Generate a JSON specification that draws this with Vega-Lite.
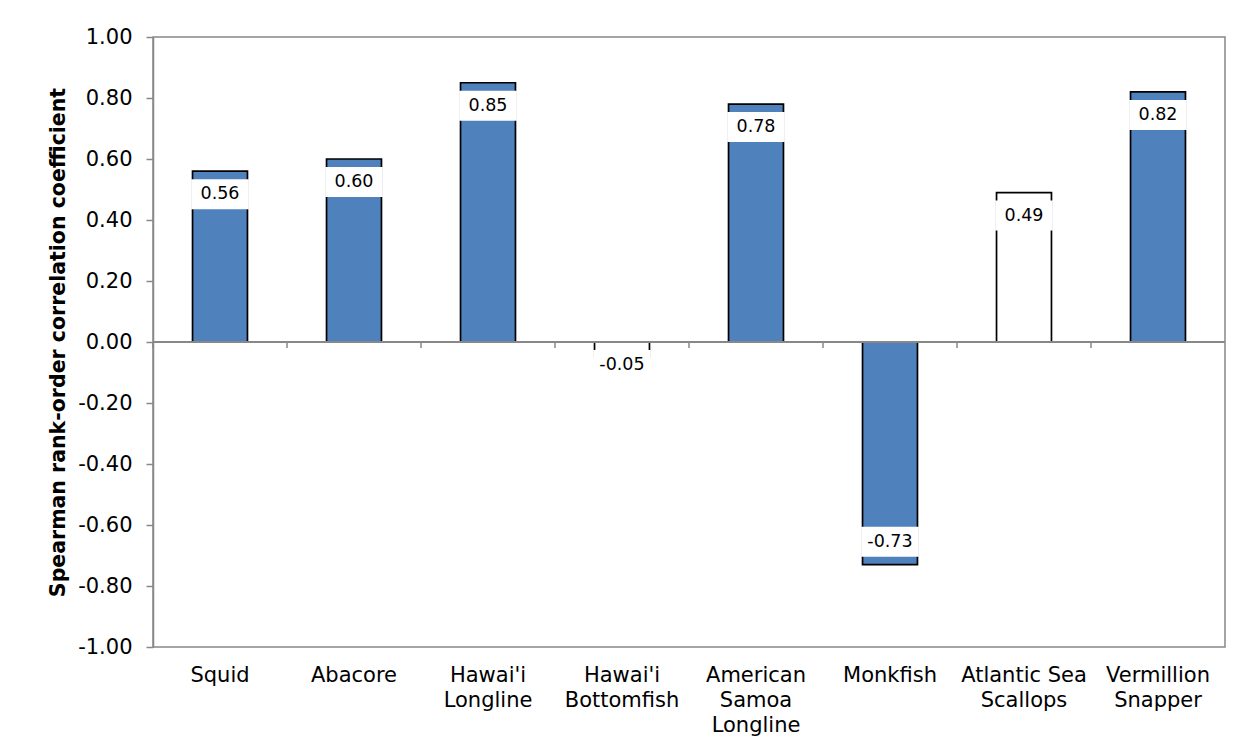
{
  "$schema": "https://vega.github.io/schema/vega-lite/v6.json",
  "width": 1072,
  "height": 610,
  "autosize": {"type": "none"},
  "padding": {"left": 153, "top": 37, "right": 30, "bottom": 105},
  "background": "white",
  "config": {
    "view": {"stroke": "#888888", "strokeWidth": 1.5},
    "font": "DejaVu Sans"
  },
  "data": {
    "values": [
      {"species": "Squid", "rho": 0.56, "fill": "solid"},
      {"species": "Abacore", "rho": 0.60, "fill": "solid"},
      {"species": "Hawai'i Longline", "rho": 0.85, "fill": "solid"},
      {"species": "Hawai'i Bottomfish", "rho": -0.05, "fill": "open"},
      {"species": "American Samoa Longline", "rho": 0.78, "fill": "solid"},
      {"species": "Monkfish", "rho": -0.73, "fill": "solid"},
      {"species": "Atlantic Sea Scallops", "rho": 0.49, "fill": "open"},
      {"species": "Vermillion Snapper", "rho": 0.82, "fill": "solid"}
    ]
  },
  "transform": [
    {"calculate": "datum.rho >= 0 ? datum.rho - 0.0754 : (datum.rho + 0.0754 > 0 ? -0.0754 : datum.rho + 0.0754)", "as": "lab"},
    {"calculate": "datum.lab + 0.0492", "as": "labTop"},
    {"calculate": "datum.lab - 0.0492", "as": "labBot"},
    {"calculate": "(datum.rho < 0 ? '-' : '') + format(abs(datum.rho), '.2f')", "as": "txt"}
  ],
  "layer": [
    {
      "mark": {"type": "bar", "stroke": "black", "strokeWidth": 1.7, "width": {"band": 0.41}},
      "encoding": {
        "x": {
          "field": "species", "type": "nominal", "sort": null, "title": null,
          "scale": {"paddingInner": 0, "paddingOuter": 0},
          "axis": {
            "title": null, "labelAngle": 0, "domain": false, "ticks": false,
            "labelPadding": 17, "labelFontSize": 21, "labelLineHeight": 25,
            "labelColor": "black", "labelBaseline": "top",
            "labelExpr": "datum.value == 'Atlantic Sea Scallops' ? ['Atlantic Sea', 'Scallops'] : split(datum.value, ' ')"
          }
        },
        "y": {
          "field": "rho", "type": "quantitative",
          "title": "Spearman rank-order correlation coefficient",
          "scale": {"domain": [-1, 1], "nice": false},
          "axis": {
            "values": [-1, -0.8, -0.6, -0.4, -0.2, 0, 0.2, 0.4, 0.6, 0.8, 1],
            "labelExpr": "(datum.value < 0 ? '-' : '') + format(abs(datum.value), '.2f')",
            "grid": false,
            "domainColor": "#888888", "domainWidth": 1.5,
            "tickColor": "#888888", "tickSize": 7, "tickWidth": 1.5,
            "labelFontSize": 21, "labelPadding": 14, "labelColor": "black",
            "titleFontSize": 20.5, "titleFontWeight": "bold", "titleColor": "black",
            "titlePadding": 9
          }
        },
        "fill": {
          "field": "fill", "type": "nominal",
          "scale": {"domain": ["solid", "open"], "range": ["#4F81BD", "#FFFFFF"]},
          "legend": null
        }
      }
    },
    {
      "mark": {"type": "bar", "fill": "white", "width": {"band": 0.43}},
      "encoding": {
        "x": {"field": "species", "type": "nominal", "sort": null, "title": null},
        "y": {"field": "labTop", "type": "quantitative", "title": "Spearman rank-order correlation coefficient"},
        "y2": {"field": "labBot"}
      }
    },
    {
      "mark": {"type": "text", "fontSize": 17.5, "color": "black", "baseline": "middle", "align": "center"},
      "encoding": {
        "x": {"field": "species", "type": "nominal", "sort": null, "title": null},
        "y": {"field": "lab", "type": "quantitative", "title": "Spearman rank-order correlation coefficient"},
        "text": {"field": "txt"}
      }
    },
    {
      "mark": {"type": "rule", "color": "#888888", "strokeWidth": 1.5},
      "encoding": {"y": {"datum": 0, "type": "quantitative", "title": "Spearman rank-order correlation coefficient"}}
    },
    {
      "mark": {"type": "rule", "color": "#888888", "strokeWidth": 1.5},
      "encoding": {
        "x": {"field": "species", "type": "nominal", "sort": null, "bandPosition": 0, "title": null},
        "y": {"datum": 0, "type": "quantitative", "title": "Spearman rank-order correlation coefficient"},
        "y2": {"datum": -0.02}
      }
    }
  ]
}
